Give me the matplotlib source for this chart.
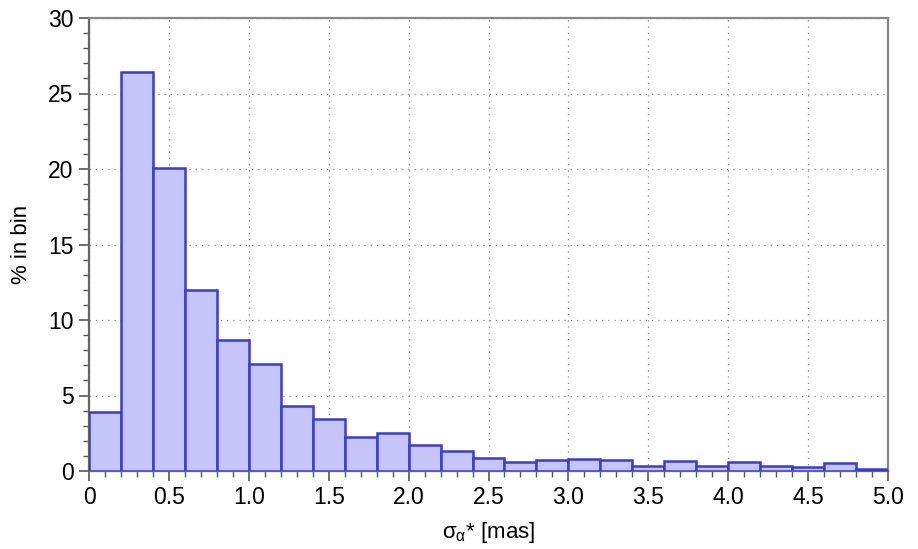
import matplotlib
matplotlib.use('Agg')
import matplotlib.pyplot as plt
import numpy as np
from matplotlib.ticker import MultipleLocator, FixedLocator, FixedFormatter

plt.rcParams['font.family'] = ['Liberation Sans', 'DejaVu Sans']

# histogram of sigma_alpha* [mas], bin width 0.2
bin_edges = [0.0, 0.2, 0.4, 0.6, 0.8, 1.0, 1.2, 1.4, 1.6, 1.8, 2.0, 2.2, 2.4,
             2.6, 2.8, 3.0, 3.2, 3.4, 3.6, 3.8, 4.0, 4.2, 4.4, 4.6, 4.8, 5.0]
pct_in_bin = [3.93, 26.4, 20.05, 11.98, 8.68, 7.09, 4.3, 3.42, 2.25, 2.54,
              1.74, 1.32, 0.86, 0.62, 0.71, 0.79, 0.71, 0.33, 0.66, 0.35,
              0.62, 0.35, 0.24, 0.51, 0.15]
x_ticks = [0, 0.5, 1.0, 1.5, 2.0, 2.5, 3.0, 3.5, 4.0, 4.5, 5.0]
x_tick_labels = ['0', '0.5', '1.0', '1.5', '2.0', '2.5', '3.0', '3.5', '4.0', '4.5', '5.0']
y_ticks = [0, 5, 10, 15, 20, 25, 30]

fig = plt.figure(figsize=(9.18, 5.49), dpi=100)
ax = fig.add_axes([89 / 918, 78 / 549, 799 / 918, 453 / 549])

edges = np.array(bin_edges)
ax.bar(edges[:-1], pct_in_bin, width=np.diff(edges), align='edge',
       color='#c5c5fa', edgecolor='#3b3bcc', linewidth=1.8, zorder=3)

ax.set_xlim(0, 5.0)
ax.set_ylim(0, 30)
ax.xaxis.set_major_locator(FixedLocator(x_ticks))
ax.xaxis.set_major_formatter(FixedFormatter(x_tick_labels))
ax.xaxis.set_minor_locator(MultipleLocator(0.1))
ax.yaxis.set_major_locator(FixedLocator(y_ticks))
ax.yaxis.set_minor_locator(MultipleLocator(1))

ax.grid(which='major', linestyle=(0, (1, 4)), color='#888888', linewidth=0.9, zorder=0)
ax.tick_params(which='major', direction='out', length=7, width=1.2, color='#555555',
               labelsize=16.5, pad=4)
ax.tick_params(which='minor', direction='out', length=4, width=1.0, color='#555555')
ax.tick_params(top=False, right=False)

for side in ['left', 'bottom']:
    ax.spines[side].set_color('#666666')
    ax.spines[side].set_linewidth(1.6)
for side in ['top', 'right']:
    ax.spines[side].set_color('#888888')
    ax.spines[side].set_linewidth(1.6)

ax.set_xlabel(r'$\mathregular{σ_α}$* [mas]', fontsize=16, labelpad=8)
ax.set_ylabel('% in bin', fontsize=16, labelpad=12)

fig.savefig('out.png', dpi=100)
